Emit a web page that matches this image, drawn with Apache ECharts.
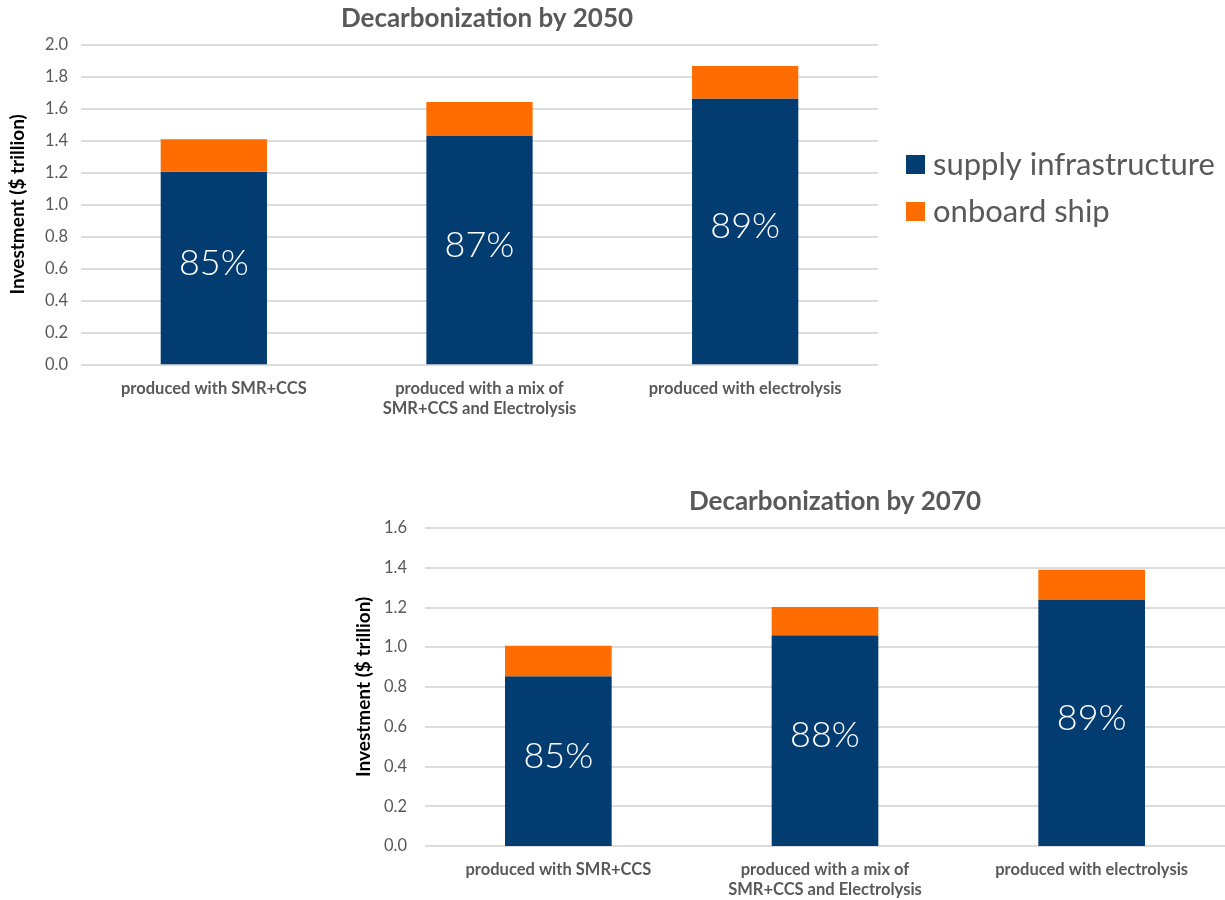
<!DOCTYPE html>
<html>
<head>
<meta charset="utf-8">
<script src="https://cdn.jsdelivr.net/npm/echarts@6/dist/echarts.min.js"></script>
<style>html,body{margin:0;padding:0;background:#fff}#c{width:1225px;height:900px}</style>
</head>
<body>
<div id="c"></div>
<script>
const categories = ['produced with SMR+CCS', 'produced with a mix of\nSMR+CCS and Electrolysis', 'produced with electrolysis'];
const supply2050 = [1.204, 1.427, 1.662];
const onboard2050 = [0.202, 0.212, 0.202];
const pct2050 = ['85%', '87%', '89%'];
const supply2070 = [0.853, 1.059, 1.237];
const onboard2070 = [0.154, 0.142, 0.151];
const pct2070 = ['85%', '88%', '89%'];
const ticks2050 = {min: 0, max: 2.0, interval: 0.2};
const ticks2070 = {min: 0, max: 1.6, interval: 0.2};

const BLUE = '#023c71', ORANGE = '#ff6d00', GRAY = '#595959';
const FONT = 'Lato';

function xAx(i) {
  return {
    type: 'category', gridIndex: i, data: categories,
    axisLine: {show: false}, axisTick: {show: false},
    axisLabel: {color: GRAY, fontFamily: FONT, fontWeight: 'bold', fontSize: 16.5, lineHeight: 20, margin: 14}
  };
}
function yAx(i, t, gap) {
  return {
    type: 'value', gridIndex: i, min: t.min, max: t.max, interval: t.interval,
    name: 'Investment ($ trillion)', nameLocation: 'middle', nameGap: gap, nameRotate: 90,
    nameTextStyle: {color: '#000', fontFamily: FONT, fontWeight: 'bold', fontSize: 19},
    axisLine: {show: false}, axisTick: {show: false},
    axisLabel: {color: GRAY, fontFamily: FONT, fontSize: 16.5, margin: i === 0 ? 13 : 18, formatter: v => v.toFixed(1)},
    splitLine: {lineStyle: {color: '#dcdcdc', width: 2}}
  };
}
function pctLabel(arr) {
  return {show: true, position: 'inside', offset: [0, -5], color: '#fff', fontFamily: FONT, fontWeight: 300, fontSize: 36,
    formatter: p => arr[p.dataIndex]};
}

const chart = echarts.init(document.getElementById('c'));
chart.setOption({
  animation: false,
  title: [
    {text: 'Decarbonization by 2050', left: 482, top: 1, textAlign: 'center',
      textStyle: {color: GRAY, fontFamily: FONT, fontWeight: 'bold', fontSize: 26}},
    {text: 'Decarbonization by 2070', left: 830, top: 484, textAlign: 'center',
      textStyle: {color: GRAY, fontFamily: FONT, fontWeight: 'bold', fontSize: 26}}
  ],
  legend: {
    orient: 'vertical', left: 906, top: 149, padding: 0, itemWidth: 19, itemHeight: 19, itemGap: 16,
    icon: 'rect',
    data: ['supply infrastructure', 'onboard ship'],
    textStyle: {color: GRAY, fontFamily: FONT, fontSize: 31, lineHeight: 31, padding: [0, 0, 0, 3]}
  },
  grid: [
    {left: 80, right: 347, top: 44.3, bottom: 535.7},
    {left: 425, right: 0, top: 527.7, bottom: 53.3}
  ],
  xAxis: [xAx(0), xAx(1)],
  yAxis: [yAx(0, ticks2050, 54), yAx(1, ticks2070, 45)],
  series: [
    {name: 'supply infrastructure', type: 'bar', stack: 'a', xAxisIndex: 0, yAxisIndex: 0, barWidth: '40%',
      data: supply2050, itemStyle: {color: BLUE}, label: pctLabel(pct2050)},
    {name: 'onboard ship', type: 'bar', stack: 'a', xAxisIndex: 0, yAxisIndex: 0, barWidth: '40%',
      data: onboard2050, itemStyle: {color: ORANGE}},
    {name: 'supply infrastructure', type: 'bar', stack: 'b', xAxisIndex: 1, yAxisIndex: 1, barWidth: '40%',
      data: supply2070, itemStyle: {color: BLUE}, label: pctLabel(pct2070)},
    {name: 'onboard ship', type: 'bar', stack: 'b', xAxisIndex: 1, yAxisIndex: 1, barWidth: '40%',
      data: onboard2070, itemStyle: {color: ORANGE}}
  ]
});
</script>
</body>
</html>
